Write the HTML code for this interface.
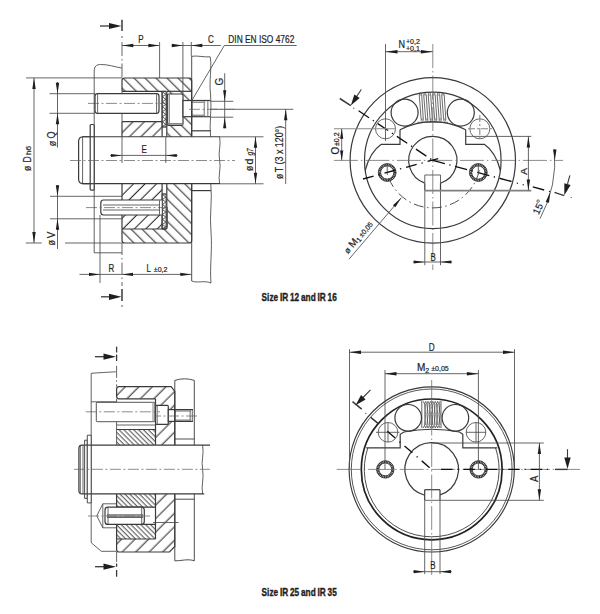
<!DOCTYPE html>
<html><head><meta charset="utf-8"><style>
html,body{margin:0;padding:0;background:#fff;}
svg{display:block;}
.k{stroke:#3a3a3a;stroke-width:1.2;fill:none;}
.kf{stroke:#3a3a3a;stroke-width:1.05;}
.t{stroke:#4a4a4a;stroke-width:0.85;fill:none;}
.c{stroke:#666;stroke-width:0.75;fill:none;stroke-dasharray:11 2.5 2 2.5;}
.tx{font-family:"Liberation Sans",sans-serif;fill:#1e1e1e;stroke:#1e1e1e;stroke-width:0.2;}
</style></head><body>
<svg width="600" height="614" viewBox="0 0 600 614">
<defs>
<pattern id="hb" patternUnits="userSpaceOnUse" width="7.78" height="7.78" patternTransform="rotate(45)"><line x1="0" y1="7.07" x2="7.78" y2="7.07" stroke="#2a2a2a" stroke-width="1.05"/></pattern>
<pattern id="hf" patternUnits="userSpaceOnUse" width="8.1" height="8.1" patternTransform="rotate(-45)"><line x1="0" y1="1.91" x2="8.1" y2="1.91" stroke="#2a2a2a" stroke-width="1.05"/></pattern>
<pattern id="hfL" patternUnits="userSpaceOnUse" width="8.1" height="8.1" patternTransform="rotate(-45)"><line x1="0" y1="5.76" x2="8.1" y2="5.76" stroke="#2a2a2a" stroke-width="1.05"/></pattern>
<pattern id="hb2" patternUnits="userSpaceOnUse" width="3.45" height="3.45" patternTransform="rotate(45)"><line x1="0" y1="2.4" x2="3.45" y2="2.4" stroke="#2a2a2a" stroke-width="0.85"/></pattern>
<pattern id="hf2" patternUnits="userSpaceOnUse" width="9.55" height="9.55" patternTransform="rotate(-45)"><line x1="0" y1="8.77" x2="9.55" y2="8.77" stroke="#2a2a2a" stroke-width="1.05"/></pattern>
</defs>
<path d="M122,78 H191.7 V100.5 H183 V94 H167.3 V91.3 H122 Z" fill="url(#hb)" stroke="none"/>
<path d="M183,116.7 H191.7 V136.75 H167.3 V125.4 H183 Z" fill="url(#hb)" stroke="none"/>
<path d="M122,121.7 H162.1 V136.75 H122 Z" fill="url(#hf)" stroke="none"/>
<path d="M122,183.7 H162.1 V200 H122 Z" fill="url(#hfL)" stroke="none"/>
<path d="M122,215 H162.1 V229 H122 Z" fill="url(#hfL)" stroke="none"/>
<path d="M166.8,183.7 H191.7 V243 H122 V229 H166.8 Z" fill="url(#hb)" stroke="none"/>
<path d="M122,91.3 V80.5 Q122,78 124.5,78 H189.2 Q191.7,78 191.7,80.5 V136.75" class="k" />
<line x1="122" y1="121.7" x2="122" y2="136.75" class="k" />
<line x1="122" y1="91.3" x2="122" y2="121.7" class="t" />
<line x1="122" y1="200" x2="122" y2="215" class="t" />
<path d="M191.7,183.7 V240.5 Q191.7,243 189.2,243 H124.5 Q122,243 122,240.5 V215" class="k" />
<line x1="122" y1="183.7" x2="122" y2="200" class="k" />
<line x1="122" y1="91.3" x2="162.1" y2="91.3" class="k" />
<line x1="166.8" y1="91.3" x2="191.7" y2="91.3" class="k" />
<line x1="122" y1="121.7" x2="162.1" y2="121.7" class="k" />
<line x1="122" y1="229" x2="166.8" y2="229" class="k" />
<line x1="162.1" y1="91.3" x2="162.1" y2="136.75" class="k" />
<line x1="166.8" y1="91.3" x2="166.8" y2="136.75" class="k" />
<line x1="162.1" y1="183.7" x2="162.1" y2="229" class="k" />
<line x1="166.8" y1="183.7" x2="166.8" y2="229" class="k" />
<path d="M162.4,91.8 L165.79999999999998,94.30 L162.4,96.80 L165.79999999999998,99.30 L162.4,101.80 L165.79999999999998,104.30 L162.4,106.80 L165.79999999999998,109.30 L162.4,111.80 L165.79999999999998,114.30 L162.4,116.80 L165.79999999999998,119.30 L162.4,121.80 L165.79999999999998,124.30 L162.4,126.50" class="k"  style="stroke-width:0.85"/>
<line x1="162.1" y1="91.3" x2="162.1" y2="127" class="k"  style="stroke-width:0.8"/>
<line x1="166.0" y1="91.3" x2="166.0" y2="127" class="k"  style="stroke-width:0.8"/>
<line x1="162.1" y1="91.3" x2="166.0" y2="91.3" class="k"  style="stroke-width:1.3"/>
<line x1="162.1" y1="127" x2="166.0" y2="127" class="k"  style="stroke-width:1.3"/>
<line x1="167.10000000000002" y1="104.3" x2="167.10000000000002" y2="125.5" class="k"   style="stroke-width:1.5;stroke:#555"/>
<path d="M162.4,194.5 L165.79999999999998,197.00 L162.4,199.50 L165.79999999999998,202.00 L162.4,204.50 L165.79999999999998,207.00 L162.4,209.50 L165.79999999999998,212.00 L162.4,214.50 L165.79999999999998,217.00 L162.4,219.50 L165.79999999999998,222.00 L162.4,224.50 L165.79999999999998,227.00 L162.4,228.50" class="k"  style="stroke-width:0.85"/>
<line x1="162.1" y1="194" x2="162.1" y2="229" class="k"  style="stroke-width:0.8"/>
<line x1="166.0" y1="194" x2="166.0" y2="229" class="k"  style="stroke-width:0.8"/>
<line x1="162.1" y1="194" x2="166.0" y2="194" class="k"  style="stroke-width:1.3"/>
<line x1="162.1" y1="229" x2="166.0" y2="229" class="k"  style="stroke-width:1.3"/>
<line x1="167.10000000000002" y1="207" x2="167.10000000000002" y2="227.5" class="k"   style="stroke-width:1.5;stroke:#555"/>
<rect x="167.3" y="94" width="15.7" height="31.4" rx="1.5" class="k"  style="fill:#fff"/>
<line x1="169.2" y1="94.5" x2="169.2" y2="125" class="t" />
<line x1="167.6" y1="123.8" x2="182.7" y2="123.8" class="k"   style="stroke-width:1.6;stroke:#888"/>
<rect x="183" y="100.5" width="8.7" height="16.2" rx="0" class="k"  style="fill:#fff"/>
<line x1="191.7" y1="100.5" x2="210.3" y2="100.5" class="k" />
<line x1="191.7" y1="116.7" x2="210.3" y2="116.7" class="k" />
<line x1="191.7" y1="102.2" x2="205.3" y2="102.2" class="t" />
<line x1="191.7" y1="115.2" x2="205.3" y2="115.2" class="t" />
<line x1="204.3" y1="101" x2="204.3" y2="116.3" class="t"   style="stroke-width:1.4;stroke:#999"/>
<line x1="207.8" y1="101" x2="207.8" y2="116.3" class="t"   style="stroke-width:1.4;stroke:#999"/>
<rect x="95" y="93.7" width="64" height="19.6" rx="2.5" class="k"  style="fill:#fff"/>
<line x1="97.6" y1="94.2" x2="97.6" y2="112.8" class="t" />
<line x1="156.6" y1="94.2" x2="156.6" y2="112.8" class="t" />
<line x1="88" y1="103.4" x2="165" y2="103.4" class="c" />
<path d="M161.7,200 H103.5 Q100.8,200 100.8,203 V212 Q100.8,215 103.5,215 H161.7" class="k"  style="fill:#fff"/>
<line x1="103" y1="205" x2="159" y2="205" class="t" />
<line x1="103" y1="210" x2="159" y2="210" class="t" />
<line x1="86" y1="207.6" x2="168" y2="207.6" class="c" />
<line x1="159.5" y1="200.5" x2="159.5" y2="214.5" class="t" />
<path d="M94.2,71 C94.2,66.5 96.5,64.5 100.5,64.5 C108,64.3 115,67 121.7,68" class="k"  style="stroke-width:0.8"/>
<line x1="94.2" y1="71" x2="94.2" y2="252.8" class="k"  style="stroke-width:0.8"/>
<line x1="94.2" y1="252.8" x2="122" y2="252.8" class="k"  style="stroke-width:0.8"/>
<line x1="100" y1="215" x2="100" y2="283" class="t" />
<line x1="82.5" y1="136.75" x2="220" y2="136.75" class="k" />
<line x1="82.5" y1="183.7" x2="220" y2="183.7" class="k" />
<path d="M90.2,136.75 H82.6 Q78.6,137.2 78.6,141.5 V179 Q78.6,183.3 82.6,183.7 H90.2" class="k" />
<line x1="82.6" y1="137" x2="82.6" y2="183.5" class="k"  style="stroke-width:0.8"/>
<rect x="90.2" y="124.5" width="4" height="65.6" rx="1" class="k"  style="fill:#fff"/>
<line x1="90.2" y1="136.75" x2="94.2" y2="136.75" class="k" />
<line x1="90.2" y1="183.7" x2="94.2" y2="183.7" class="k" />
<path d="M219.6,136.75 C221.3,145 217.9,152 219.6,160.2 C221.3,168 217.9,176 219.6,183.7" class="k"  style="stroke-width:0.8"/>
<line x1="70" y1="160.5" x2="235" y2="160.5" class="c" />
<line x1="191.7" y1="56" x2="191.7" y2="136.75" class="k"  style="stroke-width:0.9"/>
<line x1="191.7" y1="183.7" x2="191.7" y2="281" class="k"  style="stroke-width:0.9"/>
<path d="M191.7,56.3 C197,55.3 205,57.5 210.2,56.8" class="k"  style="stroke-width:0.8"/>
<path d="M210.2,56.8 C212.2,68 208.8,80 210.6,95 C212,110 209,124 210.6,136.75" class="k"  style="stroke-width:0.8"/>
<path d="M210.8,183.7 C212.6,200 209.2,215 211,232 C212.5,250 209.5,268 211,283" class="k"  style="stroke-width:0.8"/>
<path d="M191.7,281 C197,283.5 204,280 211,283" class="k"  style="stroke-width:0.8"/>
<line x1="191.7" y1="130.8" x2="210.6" y2="130.8" class="k" />
<line x1="191.7" y1="190.6" x2="210.9" y2="190.6" class="k" />
<line x1="122" y1="19.7" x2="122" y2="31" class="k"  style="stroke-width:1.5"/>
<circle cx="122" cy="37" r="0.75" class=""  style="fill:#333"/>
<line x1="122" y1="42" x2="122" y2="78" class="t"  style="stroke-dasharray:14 3 1.5 3"/>
<line x1="122" y1="243" x2="122" y2="286" class="t"  style="stroke-dasharray:12 3 1.5 3"/>
<line x1="122" y1="289" x2="122" y2="301" class="k"  style="stroke-width:1.5"/>
<circle cx="122" cy="306" r="0.75" class=""  style="fill:#333"/>
<line x1="100" y1="26" x2="112" y2="26" class="k"  style="stroke-width:1.3"/>
<polygon points="121.50,26.00 109.00,29.10 109.00,22.90" fill="#1e1e1e"/>
<line x1="101" y1="296.8" x2="112" y2="296.8" class="k"  style="stroke-width:1.3"/>
<polygon points="121.50,296.80 109.00,299.90 109.00,293.70" fill="#1e1e1e"/>
<line x1="26" y1="77.9" x2="122" y2="77.9" class="t" />
<line x1="49.5" y1="93.7" x2="95" y2="93.7" class="t" />
<line x1="49.5" y1="113.3" x2="95" y2="113.3" class="t" />
<line x1="50" y1="196.3" x2="122" y2="196.3" class="t" />
<line x1="50" y1="218.8" x2="122" y2="218.8" class="t" />
<line x1="25.8" y1="243" x2="41.7" y2="243" class="t" />
<line x1="65" y1="243" x2="122" y2="243" class="t" />
<line x1="34" y1="78" x2="34" y2="243" class="t" />
<polygon points="34.00,78.00 35.70,89.00 32.30,89.00" fill="#1e1e1e"/>
<polygon points="34.00,243.00 32.30,232.00 35.70,232.00" fill="#1e1e1e"/>
<line x1="57.5" y1="82" x2="57.5" y2="147.5" class="t" />
<polygon points="57.50,93.70 55.80,82.70 59.20,82.70" fill="#1e1e1e"/>
<polygon points="57.50,113.30 59.20,124.30 55.80,124.30" fill="#1e1e1e"/>
<line x1="57.5" y1="185" x2="57.5" y2="249" class="t" />
<polygon points="57.50,196.30 55.80,185.30 59.20,185.30" fill="#1e1e1e"/>
<polygon points="57.50,218.80 59.20,229.80 55.80,229.80" fill="#1e1e1e"/>
<line x1="110" y1="155.4" x2="177.5" y2="155.4" class="t" />
<polygon points="122.00,155.40 111.00,156.90 111.00,153.90" fill="#1e1e1e"/>
<polygon points="165.80,155.40 176.80,153.90 176.80,156.90" fill="#1e1e1e"/>
<line x1="165.8" y1="137" x2="165.8" y2="163" class="t" />
<line x1="122" y1="137" x2="122" y2="163" class="t" />
<line x1="79.5" y1="274.4" x2="191.3" y2="274.4" class="t" />
<polygon points="100.00,274.40 89.00,276.10 89.00,272.70" fill="#1e1e1e"/>
<polygon points="122.00,274.40 133.00,272.70 133.00,276.10" fill="#1e1e1e"/>
<polygon points="191.30,274.40 180.30,276.10 180.30,272.70" fill="#1e1e1e"/>
<line x1="122" y1="45.5" x2="159.6" y2="45.5" class="t" />
<polygon points="122.30,45.50 133.30,43.80 133.30,47.20" fill="#1e1e1e"/>
<polygon points="159.40,45.50 148.40,47.20 148.40,43.80" fill="#1e1e1e"/>
<line x1="159.6" y1="42" x2="159.6" y2="78" class="t" />
<line x1="171.7" y1="45.5" x2="220.8" y2="45.5" class="t" />
<polygon points="182.80,45.50 171.80,47.20 171.80,43.80" fill="#1e1e1e"/>
<polygon points="191.30,45.50 202.30,43.80 202.30,47.20" fill="#1e1e1e"/>
<line x1="182.9" y1="42" x2="182.9" y2="94" class="t" />
<line x1="191.3" y1="42" x2="191.3" y2="56" class="t" />
<line x1="224.3" y1="45.5" x2="296.7" y2="45.5" class="t" />
<line x1="224.3" y1="45.5" x2="191.7" y2="100.8" class="t" />
<line x1="210.3" y1="101.3" x2="233.3" y2="101.3" class="t" />
<line x1="210.3" y1="117.2" x2="233.3" y2="117.2" class="t" />
<line x1="224.7" y1="73.3" x2="224.7" y2="128.3" class="t" />
<polygon points="224.70,101.30 223.10,90.30 226.30,90.30" fill="#1e1e1e"/>
<polygon points="224.70,117.20 226.30,128.20 223.10,128.20" fill="#1e1e1e"/>
<line x1="210.3" y1="109.3" x2="293.3" y2="109.3" class="t" />
<line x1="285.7" y1="109.3" x2="285.7" y2="184" class="t" />
<polygon points="285.70,109.30 287.40,120.30 284.00,120.30" fill="#1e1e1e"/>
<line x1="189" y1="109.3" x2="235" y2="109.3" class="c" />
<line x1="220" y1="136.8" x2="263.5" y2="136.8" class="t" />
<line x1="220" y1="183.8" x2="263.5" y2="183.8" class="t" />
<line x1="255.5" y1="136.8" x2="255.5" y2="183.8" class="t" />
<polygon points="255.50,136.80 257.20,147.80 253.80,147.80" fill="#1e1e1e"/>
<polygon points="255.50,183.80 253.80,172.80 257.20,172.80" fill="#1e1e1e"/>
<text class="tx" font-size="10" text-anchor="middle" transform="translate(140.9,42.7) scale(0.8,1)">P</text>
<text class="tx" font-size="10" text-anchor="middle" transform="translate(210.9,43.3) scale(0.8,1)">C</text>
<text x="228.3" y="42.8" font-size="10" text-anchor="start" textLength="66" lengthAdjust="spacingAndGlyphs" class="tx" >DIN EN ISO 4762</text>
<text class="tx" font-size="10" text-anchor="middle" transform="translate(144.1,153.1) scale(0.8,1)">E</text>
<text class="tx" font-size="10" text-anchor="middle" transform="translate(111.3,271.8) scale(0.8,1)">R</text>
<text class="tx" font-size="10" text-anchor="middle" transform="translate(148.8,271.8) scale(0.8,1)">L</text>
<text x="153.8" y="271.6" font-size="7" text-anchor="start" class="tx" >±0,2</text>
<text x="222.7" y="81.7" font-size="10" text-anchor="middle" transform="rotate(-90 222.7 81.7)" class="tx" >G</text>
<text class="tx" font-size="10" transform="translate(55.6,146.3) rotate(-90)" textLength="5.40" lengthAdjust="spacingAndGlyphs" >ø</text>
<text class="tx" font-size="10" transform="translate(55.4,138.4) rotate(-90)" textLength="7.00" lengthAdjust="spacingAndGlyphs" >Q</text>
<text class="tx" font-size="10" transform="translate(55.3,245.6) rotate(-90)" textLength="5.50" lengthAdjust="spacingAndGlyphs" >ø</text>
<text class="tx" font-size="10" transform="translate(55.0,238.2) rotate(-90)" textLength="6.60" lengthAdjust="spacingAndGlyphs" >V</text>
<text class="tx" font-size="10" transform="translate(31.3,171.0) rotate(-90)" textLength="5.20" lengthAdjust="spacingAndGlyphs" >ø</text>
<text class="tx" font-size="10" transform="translate(31.2,162.4) rotate(-90)" textLength="6.20" lengthAdjust="spacingAndGlyphs" >D</text>
<text class="tx" font-size="7" transform="translate(31.2,155.0) rotate(-90)" textLength="9.20" lengthAdjust="spacingAndGlyphs" >h6</text>
<text class="tx" font-size="10" transform="translate(252.9,171.0) rotate(-90)" textLength="5.20" lengthAdjust="spacingAndGlyphs" >ø</text>
<text class="tx" font-size="10.6" transform="translate(252.9,164.5) rotate(-90)" textLength="6.00" lengthAdjust="spacingAndGlyphs" >d</text>
<text class="tx" font-size="8.5" transform="translate(253.4,155.6) rotate(-90)" textLength="7.40" lengthAdjust="spacingAndGlyphs" font-family="Liberation Serif" font-style="italic">g7</text>
<text class="tx" font-size="10" transform="translate(283.0,179.0) rotate(-90)" textLength="5.20" lengthAdjust="spacingAndGlyphs" >ø</text>
<text class="tx" font-size="10" transform="translate(283.0,172.2) rotate(-90)" textLength="46.30" lengthAdjust="spacingAndGlyphs" >T (3 x 120°)</text>
<text class="tx" x="261.6" y="301.2" font-size="10.4" font-weight="bold" word-spacing="-0.6" textLength="75.2" lengthAdjust="spacingAndGlyphs" style="stroke:#1e1e1e;stroke-width:0.35">Size IR 12 and IR 16</text>
<circle cx="432.8" cy="160.4" r="82.7" class="k" />
<circle cx="432.8" cy="160.4" r="68.3" class="k" />
<path d="M424.80,183.13 A24.1,24.1 0 1 1 440.50,183.24" class="k" />
<line x1="424.8" y1="183.1334555226433" x2="424.8" y2="190.6" class="k" />
<line x1="440.5" y1="183.1334555226433" x2="440.5" y2="190.6" class="k" />
<line x1="424.8" y1="175" x2="440.5" y2="175" class="t" />
<line x1="424.8" y1="175" x2="424.8" y2="183.1334555226433" class="t" />
<line x1="440.5" y1="175" x2="440.5" y2="183.1334555226433" class="t" />
<line x1="424.8" y1="190.6" x2="424.8" y2="265.2" class="t" />
<line x1="440.5" y1="190.6" x2="440.5" y2="265.2" class="t" />
<circle cx="404.6" cy="112.6" r="13.5" class="k" />
<circle cx="460.8" cy="112.6" r="13.5" class="k" />
<path d="M400,129.7 Q432.8,113.5 465.7,129.7" class="k" />
<path d="M400,129.7 V144.3 H381.3 Q370,152 365.2,170.5" class="k" />
<path d="M465.7,129.7 V144.3 H484.3 Q495.6,152 500.4,170.5" class="k" />
<path d="M419.20,94.6 L421.20,119.6 M421.70,94.6 L423.30,119.6 M423.70,94.6 L425.70,119.6 M426.20,94.6 L427.80,119.6 M428.20,94.6 L430.20,119.6 M430.70,94.6 L432.30,119.6 M432.70,94.6 L434.70,119.6 M435.20,94.6 L436.80,119.6 M437.20,94.6 L439.20,119.6 M439.70,94.6 L441.30,119.6 M441.70,94.6 L443.70,119.6 M444.20,94.6 L445.80,119.6" class="k"  style="stroke-width:0.75"/>
<circle cx="420.45" cy="94.0" r="1.1" class="k"  style="stroke-width:0.6"/>
<circle cx="422.25" cy="120.1" r="1.1" class="k"  style="stroke-width:0.6"/>
<circle cx="424.95" cy="94.0" r="1.1" class="k"  style="stroke-width:0.6"/>
<circle cx="426.75" cy="120.1" r="1.1" class="k"  style="stroke-width:0.6"/>
<circle cx="429.45" cy="94.0" r="1.1" class="k"  style="stroke-width:0.6"/>
<circle cx="431.25" cy="120.1" r="1.1" class="k"  style="stroke-width:0.6"/>
<circle cx="433.95" cy="94.0" r="1.1" class="k"  style="stroke-width:0.6"/>
<circle cx="435.75" cy="120.1" r="1.1" class="k"  style="stroke-width:0.6"/>
<circle cx="438.45" cy="94.0" r="1.1" class="k"  style="stroke-width:0.6"/>
<circle cx="440.25" cy="120.1" r="1.1" class="k"  style="stroke-width:0.6"/>
<circle cx="442.95" cy="94.0" r="1.1" class="k"  style="stroke-width:0.6"/>
<circle cx="444.75" cy="120.1" r="1.1" class="k"  style="stroke-width:0.6"/>
<line x1="417.5" y1="122.3" x2="448" y2="122.3" class="k"  style="stroke-width:0.7"/>
<circle cx="385.5" cy="128.8" r="10" class="t"   style="stroke-width:0.8;stroke:#444"/>
<circle cx="479.8" cy="128.8" r="10" class="t"   style="stroke-width:0.8;stroke:#444"/>
<line x1="468" y1="128.8" x2="492.5" y2="128.8" class="t"    style="stroke-width:1.1;stroke:#888;stroke-dasharray:7 2 2 2"/>
<line x1="479.8" y1="115" x2="479.8" y2="141" class="t"    style="stroke-width:1.1;stroke:#888;stroke-dasharray:7 2 2 2"/>
<circle cx="387.2" cy="172.5" r="7.7" class="k"  style="stroke-width:2.4;stroke-dasharray:1.2 0.5;stroke:#262626"/>
<circle cx="387.2" cy="172.5" r="8.9" class="k"  style="stroke-width:0.9"/>
<circle cx="387.2" cy="172.5" r="6.6" class="k"  style="stroke-width:0.9"/>
<circle cx="478.3" cy="172.5" r="7.7" class="k"  style="stroke-width:2.4;stroke-dasharray:1.2 0.5;stroke:#262626"/>
<circle cx="478.3" cy="172.5" r="8.9" class="k"  style="stroke-width:0.9"/>
<circle cx="478.3" cy="172.5" r="6.6" class="k"  style="stroke-width:0.9"/>
<line x1="387.2" y1="163.5" x2="387.2" y2="172.5" class="t" />
<line x1="478.3" y1="163.5" x2="478.3" y2="172.5" class="t" />
<line x1="432.8" y1="44" x2="432.8" y2="270" class="c"  style="stroke-dasharray:24 3 1.5 3"/>
<line x1="333.9" y1="160.4" x2="563" y2="160.4" class="c"  style="stroke-dasharray:24 3 1.5 3"/>
<line x1="339.8" y1="98.5" x2="350.8" y2="105.6" class="k"  style="stroke-width:1.5"/>
<line x1="358.6" y1="110.8" x2="432.8" y2="160.4" stroke="#111" stroke-width="1.35" stroke-dasharray="12.5 4.6 1.3 4.6" stroke-dashoffset="0"/>
<line x1="554.5" y1="192.4" x2="564.2" y2="195.6" class="k"  style="stroke-width:1.5"/>
<line x1="432.8" y1="160.4" x2="512.3" y2="181.7" stroke="#111" stroke-width="1.35" stroke-dasharray="12.5 4.6 1.3 4.6" stroke-dashoffset="0"/>
<circle cx="517.4" cy="183.2" r="0.7" class=""  style="fill:#222"/>
<circle cx="523.2" cy="184.8" r="0.7" class=""  style="fill:#222"/>
<line x1="532.8" y1="186.9" x2="544.2" y2="190.0" class="k"   style="stroke-width:1.35;stroke:#111"/>
<circle cx="549.5" cy="191.4" r="0.7" class=""  style="fill:#222"/>
<line x1="363" y1="179" x2="438.5" y2="158.5" stroke="#111" stroke-width="1.35" stroke-dasharray="11 5 1.3 5" stroke-dashoffset="0"/>
<path d="M479.26,170.28 A47.5,47.5 0 0 1 386.34,170.28" stroke="#444" stroke-width="0.95" fill="none" stroke-dasharray="10 3.5 1.5 3.5"/>
<line x1="361.3" y1="89.5" x2="356" y2="97.5" class="k"  style="stroke-width:1.1"/>
<polygon points="350.80,105.40 354.35,94.51 359.64,98.11" fill="#1e1e1e"/>
<line x1="569.9" y1="175.3" x2="567.5" y2="184" class="k"  style="stroke-width:1.1"/>
<polygon points="564.30,195.20 564.29,183.24 570.63,185.05" fill="#1e1e1e"/>
<circle cx="353.8" cy="108.2" r="0.6" class=""  style="fill:#333"/>
<circle cx="571.2" cy="197.5" r="0.6" class=""  style="fill:#333"/>
<line x1="385.5" y1="44" x2="385.5" y2="141" class="t" />
<line x1="385.5" y1="51.7" x2="432.8" y2="51.7" class="t" />
<polygon points="385.50,51.70 397.50,49.90 397.50,53.50" fill="#1e1e1e"/>
<polygon points="432.80,51.70 420.80,53.50 420.80,49.90" fill="#1e1e1e"/>
<line x1="333.9" y1="128.8" x2="395" y2="128.8" class="t"   style="stroke-width:1.1;stroke:#888"/>
<line x1="341.7" y1="128.8" x2="341.7" y2="160.4" class="t" />
<polygon points="341.70,128.80 343.30,138.80 340.10,138.80" fill="#1e1e1e"/>
<polygon points="341.70,160.40 340.10,150.40 343.30,150.40" fill="#1e1e1e"/>
<line x1="465.5" y1="136.4" x2="531.3" y2="136.4" class="t" />
<line x1="424.8" y1="190.6" x2="531.3" y2="190.6" class="t"   style="stroke-width:1.8;stroke:#808080"/>
<line x1="528.4" y1="136.4" x2="528.4" y2="190.5" class="t" />
<polygon points="528.40,136.40 530.10,147.40 526.70,147.40" fill="#1e1e1e"/>
<polygon points="528.40,190.50 526.70,179.50 530.10,179.50" fill="#1e1e1e"/>
<path d="M554.28,149.13 A122,122 0 0 1 540.02,218.61" class="t"/>
<polygon points="554.80,160.40 553.10,149.40 556.50,149.40" fill="#1e1e1e"/>
<polygon points="550.30,191.80 548.96,202.85 545.69,201.93" fill="#1e1e1e"/>
<line x1="349.1" y1="259.1" x2="401.3" y2="197.8" class="t" />
<polygon points="401.30,197.80 395.39,207.21 392.95,205.14" fill="#1e1e1e"/>
<line x1="413.2" y1="262" x2="452.2" y2="262" class="t" />
<polygon points="424.70,262.00 413.70,263.60 413.70,260.40" fill="#1e1e1e"/>
<polygon points="440.30,262.00 451.30,260.40 451.30,263.60" fill="#1e1e1e"/>
<text class="tx" font-size="10" text-anchor="middle" transform="translate(401.7,48.3) scale(0.9,1)">N</text>
<text x="406" y="43.8" font-size="7" text-anchor="start" class="tx" >+0,2</text>
<text x="406" y="50.8" font-size="7" text-anchor="start" class="tx" >+0,1</text>
<text class="tx" font-size="10" transform="translate(339.1,154.6) rotate(-90)">O<tspan font-size="7" dx="0.8">±0,2</tspan></text>
<text class="tx" font-size="8.6" transform="translate(526.5,174.7) rotate(-90)" textLength="6.80" lengthAdjust="spacingAndGlyphs" >A</text>
<text class="tx" font-size="9.8" transform="translate(538.6,215.2) rotate(-65)">15</text>
<circle cx="538.1" cy="201.1" r="1.25" class="k"   style="stroke-width:0.9;stroke:#555"/>
<text class="tx" font-size="10.2" text-anchor="middle" transform="translate(433.1,260.7) scale(0.78,1)">B</text>
<text class="tx" font-size="10" transform="translate(347.9,254.3) rotate(-49.6)"><tspan font-size="8.5">ø</tspan> M<tspan font-size="7" dy="1.5">1</tspan><tspan font-size="7" dy="-1.5" dx="1.5">±0,05</tspan></text>
<path d="M116.6,386.7 H171.2 L174.8,391.5 V444.9 H155.5 V398.8 H116.6 Z" fill="url(#hf2)" stroke="none"/>
<path d="M116.6,429.5 H155.5 V444.9 H116.6 Z" fill="url(#hb2)" stroke="none"/>
<path d="M116.6,493.9 H155.5 V507.2 H116.6 Z" fill="url(#hb2)" stroke="none"/>
<path d="M116.6,524.4 H155.5 V539 H116.6 Z" fill="url(#hb2)" stroke="none"/>
<path d="M155.5,493.9 H174.8 V546.5 L169.5,552 H116.6 V539 H155.5 Z" fill="url(#hf2)" stroke="none"/>
<path d="M155.5,398.8 H119.1 Q116.6,398.8 116.6,396.3 V389.2 Q116.6,386.7 119.1,386.7 H171.2 L174.8,391.5 V444.9" class="k" />
<line x1="116.6" y1="398.8" x2="116.6" y2="444.9" class="k"  style="stroke-width:0.8"/>
<line x1="116.6" y1="429.5" x2="155.5" y2="429.5" class="k" />
<line x1="155.5" y1="398.8" x2="155.5" y2="405.5" class="k" />
<line x1="155.5" y1="424.3" x2="155.5" y2="444.9" class="k" />
<line x1="116.6" y1="425" x2="155.5" y2="425" class="t" />
<path d="M116.6,493.9 V549.5 Q116.6,552 119.1,552 H169.5 L174.8,546.5 V493.9" class="k" />
<line x1="116.6" y1="507.2" x2="155.5" y2="507.2" class="k" />
<line x1="116.6" y1="524.4" x2="155.5" y2="524.4" class="k" />
<line x1="116.6" y1="539" x2="155.5" y2="539" class="k" />
<line x1="155.5" y1="493.9" x2="155.5" y2="539" class="k" />
<rect x="155.5" y="405.4" width="12.8" height="18.9" rx="1" class="k"  style="fill:#fff"/>
<line x1="157.2" y1="405.8" x2="157.2" y2="424" class="t" />
<rect x="168.3" y="409.6" width="6.5" height="11.8" rx="0" class="k"  style="fill:#fff"/>
<line x1="174.8" y1="409.6" x2="193" y2="409.6" class="k" />
<line x1="174.8" y1="421.4" x2="193" y2="421.4" class="k" />
<line x1="174.8" y1="411" x2="191" y2="411" class="t" />
<line x1="174.8" y1="420.1" x2="191" y2="420.1" class="t" />
<line x1="190.2" y1="410" x2="190.2" y2="421" class="t"   style="stroke-width:1.3;stroke:#888"/>
<line x1="192.3" y1="410" x2="192.3" y2="421" class="t" />
<line x1="150" y1="416" x2="197" y2="416" class="c" />
<rect x="96.3" y="402.3" width="58.5" height="19.4" rx="0.8" class="k"  style="fill:#fff;stroke-width:0.9;stroke:#444"/>
<line x1="153" y1="402.8" x2="153" y2="421.2" class="t"   style="stroke-width:1.4;stroke:#aaa"/>
<line x1="85.8" y1="411.8" x2="160" y2="411.8" class="c" />
<path d="M91.2,373.3 C98,372.8 108,372.2 115.8,371.8" class="k"  style="stroke-width:0.8"/>
<line x1="91.2" y1="373.3" x2="91.2" y2="542.7" class="k"  style="stroke-width:0.8"/>
<path d="M91.2,542.7 L101.3,551.3 H116.6" class="k"  style="stroke-width:0.8"/>
<line x1="91.2" y1="401.8" x2="116.6" y2="401.8" class="k"  style="stroke-width:0.8"/>
<line x1="84.6" y1="445.1" x2="210" y2="445.1" class="k" />
<line x1="84.6" y1="493.9" x2="204.2" y2="493.9" class="k" />
<path d="M84.6,445.1 H81.9 Q78.9,445.1 78.9,448.5 V490.4 Q78.9,493.9 81.9,493.9 H84.6" class="k" />
<line x1="80.3" y1="446" x2="80.3" y2="493" class="t" />
<line x1="83" y1="445.5" x2="83" y2="493.5" class="t" />
<path d="M84.6,440.2 H87.3 V498.4 H84.6 Z" class="k"   style="stroke-width:0.9;fill:#fff"/>
<path d="M87.3,435.2 H91.2 V502.9 H87.3 Z" class="k"   style="stroke-width:0.9;fill:#fff"/>
<line x1="84.6" y1="445.1" x2="91.2" y2="445.1" class="k" />
<line x1="84.6" y1="493.9" x2="91.2" y2="493.9" class="k" />
<path d="M202.6,445.1 C204.3,454 200.9,461 202.6,469.4 C204.3,478 200.9,486 202.6,493.9" class="k"  style="stroke-width:0.8"/>
<line x1="73.9" y1="469.3" x2="210" y2="469.3" class="c" />
<path d="M174.8,380.4 Q184.5,377.2 194.3,380.4 V445.1" class="k"  style="stroke-width:0.9"/>
<line x1="174.8" y1="380.4" x2="174.8" y2="445.1" class="k"  style="stroke-width:0.9"/>
<line x1="174.8" y1="493.9" x2="174.8" y2="560.8" class="k"  style="stroke-width:0.9"/>
<line x1="174.8" y1="439" x2="194.3" y2="439" class="k"  style="stroke-width:0.9"/>
<line x1="174.8" y1="499.2" x2="194.3" y2="499.2" class="k"  style="stroke-width:0.9"/>
<path d="M194.3,493.9 V560.8 C188,558.5 181,561 174.8,560.8" class="k"  style="stroke-width:0.9"/>
<path d="M116.6,503.8 H102.8 L96.8,515.8 L102.8,527.8 H116.6" class="k"  style="stroke-width:0.8"/>
<line x1="102.8" y1="503.8" x2="102.8" y2="527.8" class="t" />
<rect x="105" y="507.2" width="39.3" height="17.2" rx="3" class="k"  style="fill:#fff"/>
<line x1="108" y1="507.6" x2="108" y2="524" class="t" />
<line x1="141.7" y1="507.6" x2="141.7" y2="524" class="t" />
<line x1="107" y1="514.8" x2="143" y2="514.8" class="t" />
<line x1="107" y1="517.5" x2="143" y2="517.5" class="t" />
<line x1="107" y1="516.2" x2="143" y2="516.2" class="t"   style="stroke-width:1.2;stroke:#666"/>
<line x1="88" y1="516" x2="150" y2="516" class="c" />
<line x1="153" y1="522.5" x2="178.5" y2="522.5" class="t" />
<line x1="116.6" y1="346.7" x2="116.6" y2="352.5" class="k"  style="stroke-width:1.3"/>
<line x1="116.6" y1="354.5" x2="116.6" y2="361" class="k"  style="stroke-width:1.3"/>
<line x1="116.6" y1="365.8" x2="116.6" y2="386.7" class="t"  style="stroke-dasharray:12 2.5 1.5 2.5"/>
<line x1="116.6" y1="552" x2="116.6" y2="562" class="t" />
<line x1="116.6" y1="563.5" x2="116.6" y2="566.7" class="k"  style="stroke-width:1.3"/>
<line x1="116.6" y1="570" x2="116.6" y2="576.7" class="k"  style="stroke-width:1.3"/>
<line x1="95" y1="356.7" x2="106" y2="356.7" class="k"  style="stroke-width:1.3"/>
<polygon points="116.00,356.70 103.50,359.80 103.50,353.60" fill="#1e1e1e"/>
<line x1="95" y1="566.7" x2="106" y2="566.7" class="k"  style="stroke-width:1.3"/>
<polygon points="116.00,566.70 103.50,569.80 103.50,563.60" fill="#1e1e1e"/>
<circle cx="431.7" cy="469.4" r="82.6" class="k"  style="stroke-width:1.15"/>
<circle cx="431.7" cy="469.4" r="80.4" class="k"  style="stroke-width:0.85"/>
<circle cx="431.7" cy="469.4" r="70.4" class="k"   style="stroke-width:1.7;stroke:#222"/>
<path d="M495.58,447.90 A67.4,67.4 0 1 1 367.82,447.90" class="k" style="stroke-width:0.9"/>
<path d="M424.70,495.27 A26.8,26.8 0 1 1 440.00,494.88" class="k" />
<line x1="424.7" y1="489.7" x2="424.7" y2="500.3" class="k" />
<line x1="440.0" y1="489.7" x2="440.0" y2="500.3" class="k" />
<line x1="424.7" y1="489.7" x2="440.0" y2="489.7" class="k" />
<line x1="424.7" y1="500.3" x2="424.7" y2="574" class="t" />
<line x1="440.0" y1="500.3" x2="440.0" y2="574" class="t" />
<circle cx="408.2" cy="417.8" r="13.3" class="k" />
<circle cx="455.4" cy="417.8" r="13.3" class="k" />
<path d="M366.2,447.9 H400.2 V434.3 L404,432 Q431.7,426.5 459.5,432 L462.8,434.3 V447.9 H497.2" class="k" />
<path d="M424.40,404 L425.70,414.5 L424.40,425 M425.50,404 L424.60,414.5 L425.50,425 M426.80,404 L428.10,414.5 L426.80,425 M427.90,404 L427.00,414.5 L427.90,425 M429.20,404 L430.50,414.5 L429.20,425 M430.30,404 L429.40,414.5 L430.30,425 M431.60,404 L432.90,414.5 L431.60,425 M432.70,404 L431.80,414.5 L432.70,425 M434.00,404 L435.30,414.5 L434.00,425 M435.10,404 L434.20,414.5 L435.10,425 M436.40,404 L437.70,414.5 L436.40,425 M437.50,404 L436.60,414.5 L437.50,425 M438.80,404 L440.10,414.5 L438.80,425 M439.90,404 L439.00,414.5 L439.90,425" class="k"  style="stroke-width:0.65"/>
<path d="M423.3,401.3 L424.50,404 L425.70,401.3 L426.90,404 L428.10,401.3 L429.30,404 L430.50,401.3 L431.70,404 L432.90,401.3 L434.10,404 L435.30,401.3 L436.50,404 L437.70,401.3 L438.90,404 L440.10,401.3" class="k"  style="stroke-width:0.7"/>
<path d="M423.3,428 L424.50,425.3 L425.70,428 L426.90,425.3 L428.10,428 L429.30,425.3 L430.50,428 L431.70,425.3 L432.90,428 L434.10,425.3 L435.30,428 L436.50,425.3 L437.70,428 L438.90,425.3 L440.10,428" class="k"  style="stroke-width:0.7"/>
<line x1="421.8" y1="401" x2="421.8" y2="428" class="k"  style="stroke-width:0.8"/>
<line x1="441" y1="401" x2="441" y2="428" class="k"  style="stroke-width:0.8"/>
<circle cx="388" cy="432.3" r="9.8" class="t"   style="stroke-width:0.8;stroke:#444"/>
<circle cx="476" cy="432.3" r="9.8" class="t"   style="stroke-width:0.8;stroke:#444"/>
<line x1="376" y1="432.3" x2="399.5" y2="432.3" class="t" />
<line x1="388" y1="423" x2="388" y2="442" class="t" />
<line x1="466" y1="432.3" x2="486" y2="432.3" class="t" />
<line x1="476" y1="422" x2="476" y2="442" class="t" />
<circle cx="385.3" cy="469.4" r="7.55" class="k"  style="stroke-width:2.3;stroke-dasharray:1.2 0.5;stroke:#262626"/>
<circle cx="385.3" cy="469.4" r="8.7" class="k"  style="stroke-width:0.9"/>
<circle cx="385.3" cy="469.4" r="6.4" class="k"  style="stroke-width:0.9"/>
<circle cx="478.6" cy="469.4" r="7.55" class="k"  style="stroke-width:2.3;stroke-dasharray:1.2 0.5;stroke:#262626"/>
<circle cx="478.6" cy="469.4" r="8.7" class="k"  style="stroke-width:0.9"/>
<circle cx="478.6" cy="469.4" r="6.4" class="k"  style="stroke-width:0.9"/>
<line x1="431.7" y1="380" x2="431.7" y2="575" class="c"  style="stroke-dasharray:24 3 1.5 3"/>
<line x1="336.7" y1="469.4" x2="580" y2="469.4" class="c"  style="stroke-dasharray:24 3 1.5 3"/>
<line x1="370.7" y1="417.3" x2="378" y2="423.3" class="k"  style="stroke-width:1.5"/>
<line x1="352.5" y1="401.7" x2="361.7" y2="409.2" class="k"  style="stroke-width:1.5"/>
<circle cx="365.8" cy="413.3" r="0.6" class=""  style="fill:#333"/>
<line x1="387.3" y1="431.3" x2="431.7" y2="469.4" stroke="#111" stroke-width="1.35" stroke-dasharray="10.4 5.5 1.3 5.5" stroke-dashoffset="0"/>
<line x1="555" y1="469.4" x2="567.5" y2="469.4" class="k"  style="stroke-width:1.4"/>
<line x1="441" y1="469.4" x2="548" y2="469.4" stroke="#111" stroke-width="1.35" stroke-dasharray="11.5 4.8 1.3 4.8" stroke-dashoffset="0"/>
<line x1="370.5" y1="389.8" x2="362" y2="398.5" class="k"  style="stroke-width:1.1"/>
<polygon points="355.60,405.20 361.02,395.10 365.59,399.59" fill="#1e1e1e"/>
<line x1="567.5" y1="449.2" x2="567.5" y2="458" class="k"  style="stroke-width:1.1"/>
<polygon points="567.50,469.00 564.30,457.50 570.70,457.50" fill="#1e1e1e"/>
<line x1="349.5" y1="349.2" x2="349.5" y2="469" class="t" />
<line x1="514.5" y1="349.2" x2="514.5" y2="469" class="t" />
<line x1="349.5" y1="352.2" x2="514.5" y2="352.2" class="t" />
<polygon points="349.50,352.20 361.00,350.40 361.00,354.00" fill="#1e1e1e"/>
<polygon points="514.50,352.20 503.00,354.00 503.00,350.40" fill="#1e1e1e"/>
<line x1="385" y1="370" x2="385" y2="469.4" class="t" />
<line x1="478.4" y1="370" x2="478.4" y2="469.4" class="t" />
<line x1="385" y1="373.7" x2="478.4" y2="373.7" class="t" />
<polygon points="385.00,373.70 396.50,371.90 396.50,375.50" fill="#1e1e1e"/>
<polygon points="478.40,373.70 466.90,375.50 466.90,371.90" fill="#1e1e1e"/>
<line x1="432" y1="443" x2="543.8" y2="443" class="t" />
<line x1="424.7" y1="500.3" x2="543.8" y2="500.3" class="t" />
<line x1="539.4" y1="443" x2="539.4" y2="500.3" class="t" />
<polygon points="539.40,443.00 541.10,454.00 537.70,454.00" fill="#1e1e1e"/>
<polygon points="539.40,500.30 537.70,489.30 541.10,489.30" fill="#1e1e1e"/>
<line x1="413.2" y1="571.7" x2="451.8" y2="571.7" class="t" />
<polygon points="424.70,571.70 413.70,573.30 413.70,570.10" fill="#1e1e1e"/>
<polygon points="440.00,571.70 451.00,570.10 451.00,573.30" fill="#1e1e1e"/>
<text class="tx" font-size="10.3" text-anchor="middle" transform="translate(431.8,350.9) scale(0.8,1)">D</text>
<text class="tx" font-size="10" x="417" y="371.2">M<tspan font-size="7" dy="1.5">2</tspan><tspan font-size="7" dy="-1.5" dx="2">±0,05</tspan></text>
<text class="tx" font-size="10" transform="translate(538.4,481.9) rotate(-90)" textLength="6.30" lengthAdjust="spacingAndGlyphs" >A</text>
<text class="tx" font-size="10.2" text-anchor="middle" transform="translate(432.8,568.6) scale(0.78,1)">B</text>
<text class="tx" x="261.6" y="596.2" font-size="10.4" font-weight="bold" word-spacing="-0.6" textLength="75.2" lengthAdjust="spacingAndGlyphs" style="stroke:#1e1e1e;stroke-width:0.35">Size IR 25 and IR 35</text>
</svg>
</body></html>
